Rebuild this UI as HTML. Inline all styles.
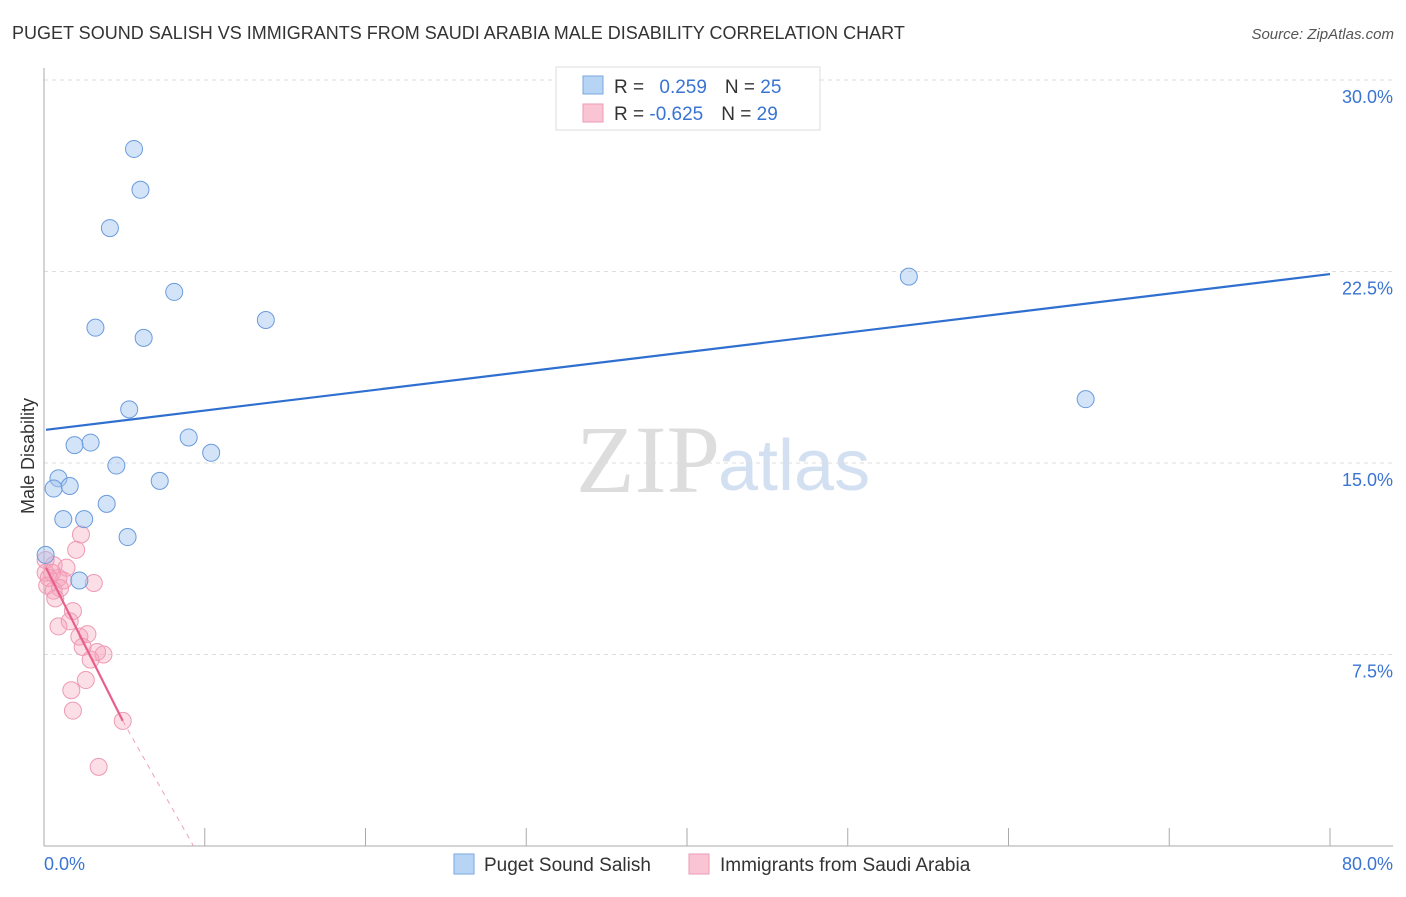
<!DOCTYPE html>
<html><head><meta charset="utf-8"><style>
body{margin:0;background:#fff;font-family:"Liberation Sans",sans-serif;}
</style></head><body>
<svg width="1406" height="892" xmlns="http://www.w3.org/2000/svg" style="font-family:'Liberation Sans',sans-serif">
<text x="12" y="39" font-size="18" fill="#333">PUGET SOUND SALISH VS IMMIGRANTS FROM SAUDI ARABIA MALE DISABILITY CORRELATION CHART</text>
<text x="1394" y="39" font-size="15" fill="#555" text-anchor="end" font-style="italic">Source: ZipAtlas.com</text>
<text x="720" y="492" font-size="96" fill="#ddd" text-anchor="end" font-family="Liberation Serif">ZIP</text>
<text x="718" y="490" font-size="72" fill="#d3e0f2">atlas</text>
<g id="grid"></g>
<g id="axes"></g>
<text transform="translate(34,456) rotate(-90)" font-size="18" fill="#333" text-anchor="middle">Male Disability</text>
<g id="marks"></g>
<rect x="556" y="67" width="264" height="63" fill="#fff" stroke="#ddd"/>
<rect x="583" y="76" width="20" height="18" fill="#b8d4f5" stroke="#7aa7e0"/>
<rect x="583" y="104" width="20" height="18" fill="#f9c5d5" stroke="#ee9ab5"/>
<text x="614" y="93" font-size="19" fill="#333">R = <tspan fill="#3a74d2" dx="10">0.259</tspan><tspan fill="#333" dx="18">N = </tspan><tspan fill="#3a74d2">25</tspan></text>
<text x="614" y="120" font-size="19" fill="#333">R = <tspan fill="#3a74d2">-0.625</tspan><tspan fill="#333" dx="18">N = </tspan><tspan fill="#3a74d2">29</tspan></text>
<rect x="454" y="854" width="20" height="20" fill="#b8d4f5" stroke="#7aa7e0"/>
<text x="484" y="871" font-size="19" fill="#333">Puget Sound Salish</text>
<rect x="689" y="854" width="20" height="20" fill="#f9c5d5" stroke="#ee9ab5"/>
<text x="720" y="871" font-size="19" fill="#333">Immigrants from Saudi Arabia</text>
</svg>
<script>
const yTicks=[7.5,15,22.5,30];
const yTickLabels=["7.5%","15.0%","22.5%","30.0%"];
const xTicks=[0,10,20,30,40,50,60,70,80];
const blueX=[5.6,6.0,4.1,8.1,3.2,13.8,6.2,53.8,64.8,5.3,9.0,1.9,2.9,10.4,4.5,0.9,0.6,1.6,7.2,3.9,1.2,2.5,5.2,0.1,2.2];
const blueY=[27.3,25.7,24.2,21.7,20.3,20.6,19.9,22.3,17.5,17.1,16.0,15.7,15.8,15.4,14.9,14.4,14.0,14.1,14.3,13.4,12.8,12.8,12.1,11.4,10.4];
const pinkX=[2.3,2.0,0.1,0.6,1.4,0.1,0.9,1.2,3.1,0.2,1.0,0.6,0.7,1.8,0.9,1.6,2.7,2.2,2.4,3.7,2.9,3.3,2.6,1.7,1.8,4.9,3.4,0.3,0.5];
const pinkY=[12.2,11.6,11.2,11.0,10.9,10.7,10.5,10.4,10.3,10.2,10.1,10.0,9.7,9.2,8.6,8.8,8.3,8.2,7.8,7.5,7.3,7.6,6.5,6.1,5.3,4.9,3.1,10.5,10.7];
const blueTrend=[[0,16.3],[80,22.4]];
const pinkTrend=[[0,10.9],[4.9,4.9]];
const pinkDash=[[4.9,4.9],[9.3,0]];
const NS="http://www.w3.org/2000/svg";
const sx=v=>44+v/80*1286, sy=v=>846-v/7.5*191.5;
function mk(t,a,p){const e=document.createElementNS(NS,t);for(const k in a)e.setAttribute(k,a[k]);p.appendChild(e);return e;}
const grid=document.getElementById('grid'),axes=document.getElementById('axes'),marks=document.getElementById('marks');
yTicks.forEach((v,i)=>{
 const l=mk('line',{x1:44,x2:1393,y1:sy(v),y2:sy(v),stroke:'#ddd','stroke-dasharray':'4,4'},grid);
 
 
 const t=mk('text',{x:1393,y:sy(v)+23,'font-size':18,fill:'#3a74d2','text-anchor':'end'},axes);
 t.textContent=yTickLabels[i];
 
 
});
const ax=mk('line',{x1:44,x2:1393,y1:846,y2:846,stroke:'#aaa'},axes);


const ay=mk('line',{x1:44,x2:44,y1:68,y2:846,stroke:'#aaa'},axes);


xTicks.slice(1).forEach(v=>{
 const l=mk('line',{x1:sx(v),x2:sx(v),y1:828,y2:846,stroke:'#aaa'},axes);
 
 
});
const x0=mk('text',{x:44,y:870,'font-size':18,fill:'#3a74d2'},axes);x0.textContent='0.0%';


const x1=mk('text',{x:1393,y:870,'font-size':18,fill:'#3a74d2','text-anchor':'end'},axes);x1.textContent='80.0%';


pinkX.forEach((x,i)=>{
 const c=mk('circle',{cx:sx(x),cy:sy(pinkY[i]),r:8.5,fill:'rgba(245,160,185,0.35)',stroke:'#ee9ab5','stroke-width':1},marks);
 
 
});
blueX.forEach((x,i)=>{
 const c=mk('circle',{cx:sx(x),cy:sy(blueY[i]),r:8.5,fill:'rgba(160,195,240,0.45)',stroke:'#6a9bdc','stroke-width':1},marks);
 
 
});
const bt=mk('line',{x1:sx(blueTrend[0][0])+2,y1:sy(blueTrend[0][1]),x2:sx(blueTrend[1][0]),y2:sy(blueTrend[1][1]),stroke:'#2f6fd0','stroke-width':2.2},marks);


const pt=mk('line',{x1:sx(pinkTrend[0][0])+2,y1:sy(pinkTrend[0][1]),x2:sx(pinkTrend[1][0]),y2:sy(pinkTrend[1][1]),stroke:'#e8608a','stroke-width':2.2},marks);


const pd=mk('line',{x1:sx(pinkDash[0][0]),y1:sy(pinkDash[0][1]),x2:sx(pinkDash[1][0]),y2:sy(pinkDash[1][1]),stroke:'#f0a0b8','stroke-width':1,'stroke-dasharray':'5,5'},marks);


</script>
</body></html>
